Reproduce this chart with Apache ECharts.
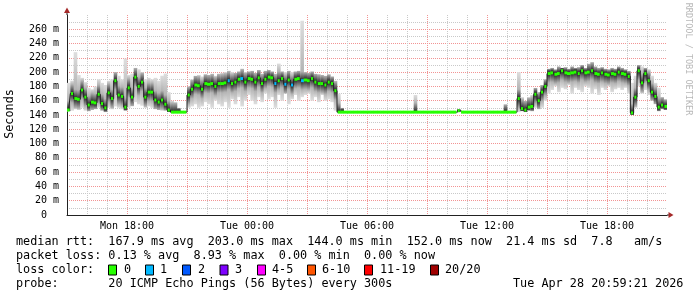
<!DOCTYPE html>
<html><head><meta charset="utf-8">
<script src="https://cdn.jsdelivr.net/npm/echarts@6/dist/echarts.min.js"></script>
<style>html,body{margin:0;padding:0;background:#fff}#c{width:697px;height:297px}</style>
</head><body><div id="c"></div>
<script>
// ---- data ----
const startHour = 15;      // Mon 15:00 (hours since Mon 00:00)
const stepMinutes = 10;
const xTickHours  = [18, 24, 30, 36, 42];
const xTickLabels = ['Mon 18:00', 'Tue 00:00', 'Tue 06:00', 'Tue 12:00', 'Tue 18:00'];
const yTickValues = [0, 20, 40, 60, 80, 100, 120, 140, 160, 180, 200, 220, 240, 260];
const yTickLabels = ['0  ', '20 m', '40 m', '60 m', '80 m', '100 m', '120 m', '140 m', '160 m', '180 m', '200 m', '220 m', '240 m', '260 m'];

const medianRtt = [
 147,170,163,162,175,165,154,158,157,169, 156,150,171,163,188,168,166,151,178,165,
 193,180,186,165,172,172,161,158,161,155, 147,144,144,144,144,144,
 168,176,182,181,176,184,183,184,180,184, 184,185,188,184,186,190,191,186,191,190,
 186,192,184,190,193,192,184,188,191,183, 189,182,190,191,188,189,188,191,186,184,
 184,182,186,184,174,
 144,144,144,144,144,144,144,144,144,144, 144,144,144,144,144,144,144,144,144,144,
 144,144,144,144,144,144,144,144,144,144, 144,144,144,144,144,144,146,144,144,144,
 144,144,144,144,144,144,144,144,144,144, 144,144,144,144,
 163,149,147,151,152,169,160,172,180,198, 199,197,198,202,199,198,199,200,198,202,
 199,200,202,198,197,199,197,196,198,197, 200,198,197,194,143,165,202,185,198,188,
 172,166,151,154,152
];
const pingLow = [
 145,146,148,147,150,146,145,147,148,150, 146,144,150,148,152,150,148,146,150,152,
 158,155,153,150,152,150,148,147,146,146, 144,144,144,144,144,144,
 150,152,155,150,152,158,155,150,160,155, 152,158,150,162,155,165,152,160,168,160,
 155,165,158,170,162,165,150,168,160,170, 155,162,168,160,165,168,170,160,165,158,
 168,160,162,158,146,
 144,144,144,144,144,144,144,144,144,144, 144,144,144,144,144,144,144,144,144,144,
 144,144,144,144,144,144,144,144,144,144, 144,144,144,144,144,144,144,144,144,144,
 144,144,144,144,144,144,144,144,144,144, 144,144,144,144,
 144,145,144,146,145,150,148,150,160,170, 175,180,172,178,176,182,170,178,175,172,
 180,178,170,176,168,178,175,180,172,176, 178,175,178,170,140,150,180,170,175,168,
 160,155,145,148,147
];
const pingHigh = [
 185,188,228,196,192,186,178,176,180,190, 185,182,188,190,200,195,190,219,196,198,
 206,204,200,190,192,190,192,188,195,198, 172,160,158,150,144,144,
 180,190,195,196,194,197,196,198,195,198, 199,200,202,200,199,201,205,200,201,202,
 199,203,198,202,203,201,198,212,201,200, 202,200,201,202,272,200,199,201,198,197,
 196,195,197,194,188,
 170,150,144,144,144,144,144,144,144,144, 144,144,144,144,144,144,144,144,144,144,
 144,144,144,168,144,144,144,144,144,144, 144,144,144,144,144,144,148,144,144,144,
 144,144,144,144,144,144,144,144,144,144, 155,144,144,144,
 200,165,160,165,168,178,172,182,190,205, 206,204,208,206,207,205,208,206,207,210,
 206,212,214,208,206,207,205,204,206,205, 208,206,204,202,185,195,210,208,206,204,
 195,185,178,165,162
];
// index into lossLabels / lossColors for each step
const lossIndex = [
 0,0,0,0,0,0,0,0,0,0, 0,0,0,0,0,0,0,0,0,0, 0,0,0,0,0,0,0,0,0,0, 0,0,0,0,0,0,0,0,0,0,
 0,0,0,0,0,0,0,0,1,0, 0,0,1,0,0,0,0,0,0,0, 0,0,1,0,0,1,0,1,0,0, 1,0,0,0,0,0,0,0,0,0,
 0,0,0,0,0,0,0,0,0,0, 0,0,0,0,0,0,0,0,0,0, 0,0,0,0,0,0,0,0,0,0, 0,0,0,0,0,0,0,0,0,0,
 0,0,0,0,0,0,0,0,0,0, 0,0,0,0,0,0,0,0,0,0, 0,0,0,0,0,0,0,0,0,0, 0,0,0,0,0,0,0,0,0,0,
 0,0,0,0,0,0,0,0,0,0, 0,0,0,0,0,0,0,0,0,0
];
const lossLabels = ['0', '1', '2', '3', '4-5', '6-10', '11-19', '20/20'];
const lossColors = ['#26ff00', '#00b8ff', '#0059ff', '#7e00ff', '#ff00ff', '#ff5500', '#ff0000', '#a00000'];
const statsRtt  = 'median rtt:  167.9 ms avg  203.0 ms max  144.0 ms min  152.0 ms now  21.4 ms sd  7.8   am/s';
const statsLoss = 'packet loss: 0.13 % avg  8.93 % max  0.00 % min  0.00 % now';
const lossTitle = 'loss color:';
const probeText = 'probe:       20 ICMP Echo Pings (56 Bytes) every 300s';
const stampText = 'Tue Apr 28 20:59:21 2026';
const yName = 'Seconds';
const sideText = 'RRDTOOL / TOBI OETIKER';

// ---- layout / style ----
const MONO = '"DejaVu Sans Mono", monospace';
const G = {left: 67, right: 30, top: 15, bottom: 82};
const W = 697, H = 297;
const MAJOR = '#f29494', MINOR = '#c9c9c9';
const STEP = stepMinutes / 60;

const smokeData = medianRtt.map((m, i) => [startHour + i * STEP, pingLow[i], pingHigh[i], m]);
const medData   = medianRtt.map((m, i) => [startHour + i * STEP, m, lossIndex[i],
  i > 0 ? medianRtt[i - 1] : m, i < medianRtt.length - 1 ? medianRtt[i + 1] : m]);
const lineData  = medianRtt.map((m, i) => [startHour + (i + 0.5) * STEP, m]);

function smokeItem(params, api) {
  const t = api.value(0), lo = api.value(1), hi = api.value(2), med = api.value(3);
  if (hi - lo < 1) return null;
  const a = api.coord([t, hi]), b = api.coord([t + STEP, lo]);
  const span = hi - lo;
  const off = v => Math.max(0, Math.min(1, (hi - v) / span));
  const stops = [
    {offset: 0, color: '#dedede'},
    {offset: off(med + 13), color: '#b4b4b4'},
    {offset: off(med + 4), color: '#4e4e4e'},
    {offset: off(med), color: '#1a1a1a'},
    {offset: off(med - 4), color: '#4e4e4e'},
    {offset: off(med - 13), color: '#b4b4b4'},
    {offset: 1, color: '#dedede'}
  ];
  return {type: 'rect', silent: true,
    shape: {x: a[0], y: a[1], width: b[0] - a[0] + 0.3, height: b[1] - a[1]},
    style: {fill: {type: 'linear', x: 0, y: 0, x2: 0, y2: 1, colorStops: stops}}};
}
function medItem(params, api) {
  const t = api.value(0), v = api.value(1), li = api.value(2), prev = api.value(3), next = api.value(4);
  const a = api.coord([t, v]), b = api.coord([t + STEP, v]);
  let x0 = a[0], x1 = b[0] + 0.3;
  if (Math.abs(prev - v) > 1) x0 += 0.7;
  if (Math.abs(next - v) > 1) x1 -= 0.9;
  return {type: 'rect', silent: true,
    shape: {x: x0, y: a[1] - 1.5, width: x1 - x0, height: 3},
    style: {fill: lossColors[li]}};
}

const xLabel = v => { const k = xTickHours.indexOf(Math.round(v)); return k >= 0 ? xTickLabels[k] : ''; };
const yLabel = v => { const k = yTickValues.indexOf(Math.round(v)); return k >= 0 ? yTickLabels[k] : ''; };

const textStyle = (txt, x, y, size, extra) => Object.assign({type: 'text', x: x, y: y, silent: true,
  style: {text: txt, font: size + 'px ' + MONO, fill: '#000', align: 'left', verticalAlign: 'middle'}}, extra || {});

const graphics = [];
const ax = G.left, bottomY = H - G.bottom, rightX = W - G.right;
graphics.push({type: 'line', silent: true, shape: {x1: ax, y1: G.top, x2: ax, y2: 12}, style: {stroke: '#222', lineWidth: 1}});
graphics.push({type: 'polygon', silent: true, shape: {points: [[ax - 3, 13], [ax + 3, 13], [ax, 7.5]]}, style: {fill: '#a52a2a'}});
graphics.push({type: 'line', silent: true, shape: {x1: rightX, y1: bottomY, x2: rightX + 2, y2: bottomY}, style: {stroke: '#222', lineWidth: 1}});
graphics.push({type: 'polygon', silent: true, shape: {points: [[rightX + 1.5, bottomY - 3], [rightX + 1.5, bottomY + 3], [rightX + 6.5, bottomY]]}, style: {fill: '#a52a2a'}});
graphics.push(textStyle(yName, 10, 114, 11.8, {rotation: Math.PI / 2}));
graphics[graphics.length - 1].style.align = 'center';
graphics.push({type: 'text', x: 688, y: 59, rotation: -Math.PI / 2, silent: true,
  style: {text: sideText, font: '8.5px ' + MONO, fill: '#b8b8b8', align: 'center', verticalAlign: 'middle'}});
graphics.push(textStyle(statsRtt, 16, 241.5, 11.8));
graphics.push(textStyle(statsLoss, 16, 255.8, 11.8));
graphics.push(textStyle(lossTitle, 16, 270, 11.8));
graphics.push(textStyle(probeText, 16, 284.3, 11.8));
graphics.push(textStyle(stampText, 513, 284.3, 11.8));
const boxX = [108, 145, 182, 219.5, 257, 307, 364, 430];
const labX = [124, 160, 198, 235, 272, 322, 380, 445];
lossLabels.forEach((lab, k) => {
  graphics.push({type: 'rect', silent: true, shape: {x: boxX[k] + 0.5, y: 265, width: 8, height: 10},
    style: {fill: lossColors[k], stroke: '#000', lineWidth: 1}});
  graphics.push(textStyle(lab, labX[k], 270, 11.8));
});

const yColors = [];
for (let k = 0; k < 28; k++) yColors.push(k % 2 === 0 ? MAJOR : MINOR);

const chart = echarts.init(document.getElementById('c'), null, {renderer: 'canvas'});
chart.setOption({
  animation: false,
  backgroundColor: '#ffffff',
  grid: G,
  xAxis: {type: 'value', min: 15, max: 45, interval: 1,
    axisLine: {show: true, onZero: false, lineStyle: {color: '#222', width: 1}},
    axisTick: {show: false},
    axisLabel: {formatter: xLabel, fontFamily: MONO, fontSize: 10, color: '#000', margin: 6, showMinLabel: true, showMaxLabel: true},
    splitLine: {show: true, showMaxLine: false, lineStyle: {color: [MAJOR, MINOR, MINOR], type: [1, 1], width: 1}}},
  yAxis: {type: 'value', min: 0, max: 280, interval: 10,
    axisLine: {show: true, lineStyle: {color: '#222', width: 1}},
    axisTick: {show: false},
    axisLabel: {formatter: yLabel, fontFamily: MONO, fontSize: 10, color: '#000', margin: 8},
    splitLine: {show: true, showMaxLine: false, lineStyle: {color: yColors, type: [1, 1], width: 1}}},
  series: [
    {type: 'custom', name: 'smoke', renderItem: smokeItem, data: smokeData, z: 1, clip: true},
    {type: 'line', name: 'median', data: lineData, step: 'middle', symbol: 'none', z: 2,
      lineStyle: {color: '#202020', width: 1}},
    {type: 'custom', name: 'loss', renderItem: medItem, data: medData, z: 3, clip: true}
  ],
  graphic: graphics
});
</script></body></html>
